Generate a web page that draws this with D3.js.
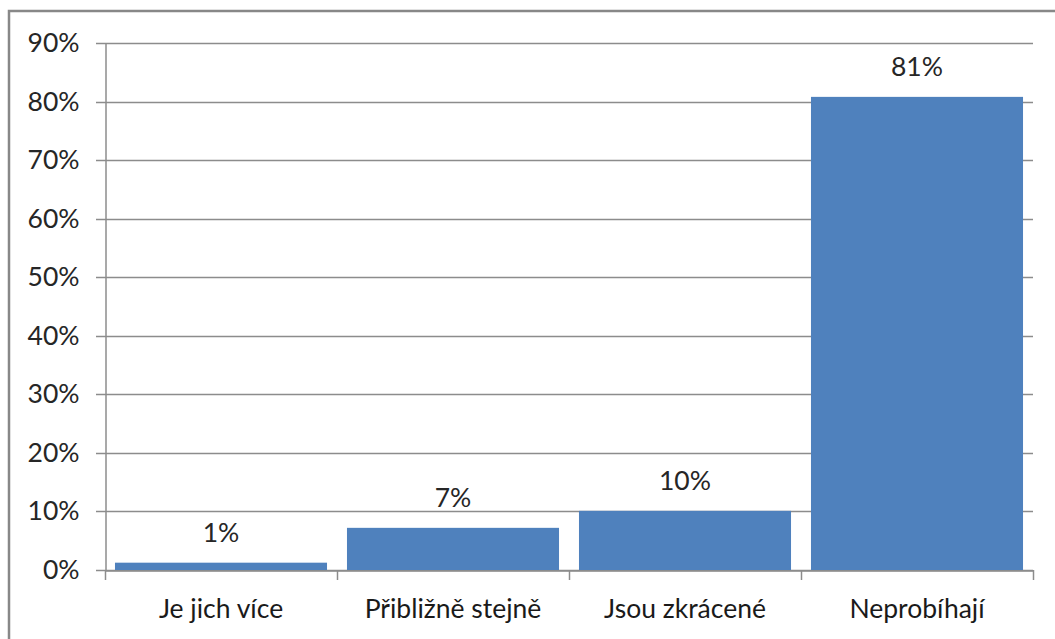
<!DOCTYPE html>
<html><head><meta charset="utf-8">
<script src="https://cdn.jsdelivr.net/npm/d3@7"></script>
<style>html,body{margin:0;padding:0;background:#fff;}svg{display:block;}</style>
</head><body>
<svg id="chart" width="1055" height="639"></svg>
<script>
const categories = ["Je jich více", "Přibližně stejně", "Jsou zkrácené", "Neprobíhají"];
const values = [0.0125, 0.072, 0.101, 0.808];
const valueLabels = ["1%", "7%", "10%", "81%"];
const yTicks = [0, 0.1, 0.2, 0.3, 0.4, 0.5, 0.6, 0.7, 0.8, 0.9];

const svg = d3.select("#chart");
const font = "Lato, 'Open Sans', sans-serif";
const fs = 26.5;
const m = {left: 105, right: 1033, top: 43, bottom: 570};

svg.append("rect").attr("x", 9).attr("y", 11).attr("width", 1100).attr("height", 700)
  .attr("fill", "none").attr("stroke", "#888").attr("stroke-width", 2.5);

const x = d3.scaleBand().domain(categories).range([m.left, m.right]).paddingInner(0.086).paddingOuter(0.043);
const y = d3.scaleLinear().domain([0, 0.9]).range([m.bottom, m.top]);

// gridlines
svg.append("g").selectAll("line").data(yTicks).join("line")
  .attr("x1", m.left - 9).attr("x2", m.right)
  .attr("y1", d => Math.round(y(d)) + 0.5).attr("y2", d => Math.round(y(d)) + 0.5)
  .attr("stroke", "#8c8c8c").attr("stroke-width", 1.3);

// y axis
const yAxis = svg.append("g").attr("transform", `translate(${m.left + 0.5},0)`)
  .call(d3.axisLeft(y).tickValues(yTicks).tickFormat(d3.format(".0%")).tickSize(0).tickPadding(26));
yAxis.select(".domain").attr("stroke", "#8c8c8c").attr("stroke-width", 1.5);
yAxis.selectAll("text").attr("font-family", font).attr("font-size", fs).attr("fill", "#262626");

// bars
svg.append("g").selectAll("rect").data(categories).join("rect")
  .attr("x", d => x(d)).attr("width", x.bandwidth())
  .attr("y", (d, i) => y(values[i])).attr("height", (d, i) => y(0) - y(values[i]))
  .attr("fill", "#4F81BD");

// x axis
const xAxis = svg.append("g").attr("transform", `translate(0,${m.bottom + 0.5})`)
  .call(d3.axisBottom(x).tickSize(0).tickPadding(29));
xAxis.select(".domain").attr("stroke", "#8c8c8c").attr("stroke-width", 1.5);
xAxis.selectAll("text").attr("font-family", font).attr("font-size", fs).attr("fill", "#1a1a1a");
// boundary ticks
const bounds = d3.range(categories.length + 1).map(i => m.left + i * (m.right - m.left) / categories.length);
svg.append("g").selectAll("line").data(bounds).join("line")
  .attr("x1", d => Math.round(d) + 0.5).attr("x2", d => Math.round(d) + 0.5)
  .attr("y1", m.bottom).attr("y2", m.bottom + 10)
  .attr("stroke", "#8c8c8c").attr("stroke-width", 1.5);

// data labels
svg.append("g").selectAll("text").data(categories).join("text")
  .attr("x", d => x(d) + x.bandwidth() / 2)
  .attr("y", (d, i) => y(values[i]) - 21)
  .attr("text-anchor", "middle")
  .attr("font-family", font).attr("font-size", fs).attr("fill", "#262626")
  .text((d, i) => valueLabels[i]);
</script>
</body></html>
